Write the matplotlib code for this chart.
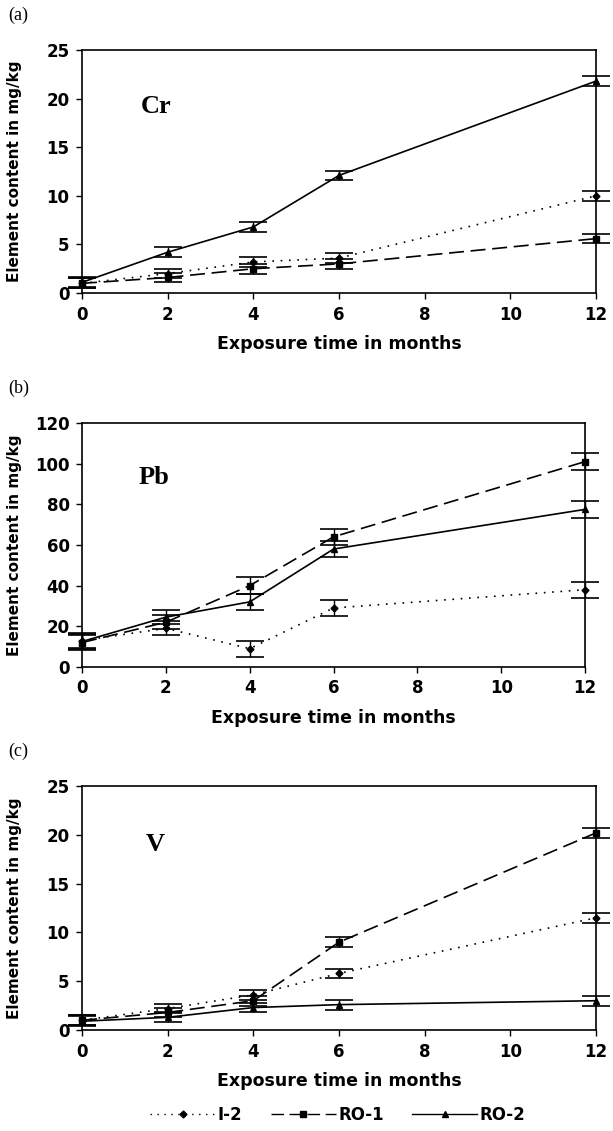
import matplotlib
matplotlib.use("Agg")
import matplotlib.pyplot as plt
from matplotlib.lines import Line2D

# exposure time (months)
months = [0, 2, 4, 6, 12]
series_names = ['I-2', 'RO-1', 'RO-2']

# Cr (mg/kg)
cr_i2 = [1.0, 2.0, 3.2, 3.6, 10.0]
cr_ro1 = [1.0, 1.6, 2.5, 3.0, 5.6]
cr_ro2 = [1.1, 4.2, 6.8, 12.1, 21.8]
cr_err = [0.5, 0.5, 0.5, 0.5, 0.5]

# Pb (mg/kg)
pb_i2 = [13, 19, 9, 29, 38]
pb_ro1 = [12, 22, 40, 64, 101]
pb_ro2 = [12.5, 24.5, 32, 58, 77.5]
pb_err = [3.5, 3.5, 4, 4, 4]

# V (mg/kg)
v_i2 = [1.0, 2.2, 3.6, 5.8, 11.5]
v_ro1 = [1.0, 1.8, 3.0, 9.0, 20.2]
v_ro2 = [0.9, 1.3, 2.3, 2.6, 3.0]
v_err = [0.5, 0.5, 0.5, 0.5, 0.5]

styles = [
    dict(linestyle=(0, (1, 4)), marker='D', markersize=3.5),
    dict(linestyle=(0, (9, 4)), marker='s', markersize=5),
    dict(linestyle='-', marker='^', markersize=4.5),
]

sans = 'DejaVu Sans'
serif = 'Liberation Serif'

fig = plt.figure(figsize=(6.13, 11.31), dpi=100)

panels = [
    ('(a)', 'Cr', [cr_i2, cr_ro1, cr_ro2], cr_err, 25, 5, [0.1338, 0.7409, 0.8385, 0.2149], 19.2),
    ('(b)', 'Pb', [pb_i2, pb_ro1, pb_ro2], pb_err, 120, 20, [0.1338, 0.4103, 0.8206, 0.2157], 93.0),
    ('(c)', 'V', [v_i2, v_ro1, v_ro2], v_err, 25, 5, [0.1338, 0.0893, 0.8385, 0.2157], 19.0),
]

for tag, elem, data, err, ymax, ystep, pos, ytxt in panels:
    ax = fig.add_axes(pos)
    for vals, st in zip(data, styles):
        ax.errorbar(months, vals, yerr=err, color='black', linewidth=1.2,
                    elinewidth=1.0, capsize=10, capthick=1.2, clip_on=False, **st)
    ax.set_xlim(0, 12)
    ax.set_ylim(0, ymax)
    ax.set_xticks([0, 2, 4, 6, 8, 10, 12])
    ax.set_yticks(range(0, ymax + 1, ystep))
    ax.tick_params(direction='out', length=4, width=1, pad=5)
    for lab in ax.get_xticklabels() + ax.get_yticklabels():
        lab.set_fontsize(12)
        lab.set_fontfamily(sans)
        lab.set_fontweight('bold')
    for sp in ax.spines.values():
        sp.set_linewidth(1.2)
    ax.set_xlabel('Exposure time in months', fontsize=12.5, labelpad=8,
                  family=sans, fontweight='bold')
    ax.set_ylabel('Element content in mg/kg', fontsize=11,
                  family=sans, fontweight='bold')
    # same label x position (pixels) in every panel
    ax.yaxis.set_label_coords(-60 / (pos[2] * 613), 0.5)
    ax.text(1.72, ytxt, elem, fontsize=19, fontweight='bold', family=serif,
            ha='center', va='center')
    fig.text(0.013, pos[1] + pos[3] + 0.031, tag, fontsize=13, family=serif,
             ha='left', va='center')

handles = [Line2D([], [], color='black', linewidth=1.0, **st) for st in styles]
fig.legend(handles, series_names, loc='center', bbox_to_anchor=(0.551, 0.014),
           ncol=3, frameon=False, handlelength=3.9, handletextpad=0.15,
           columnspacing=1.7,
           prop=dict(family=sans, weight='bold', size=12))

fig.savefig('out.png', dpi=100)
